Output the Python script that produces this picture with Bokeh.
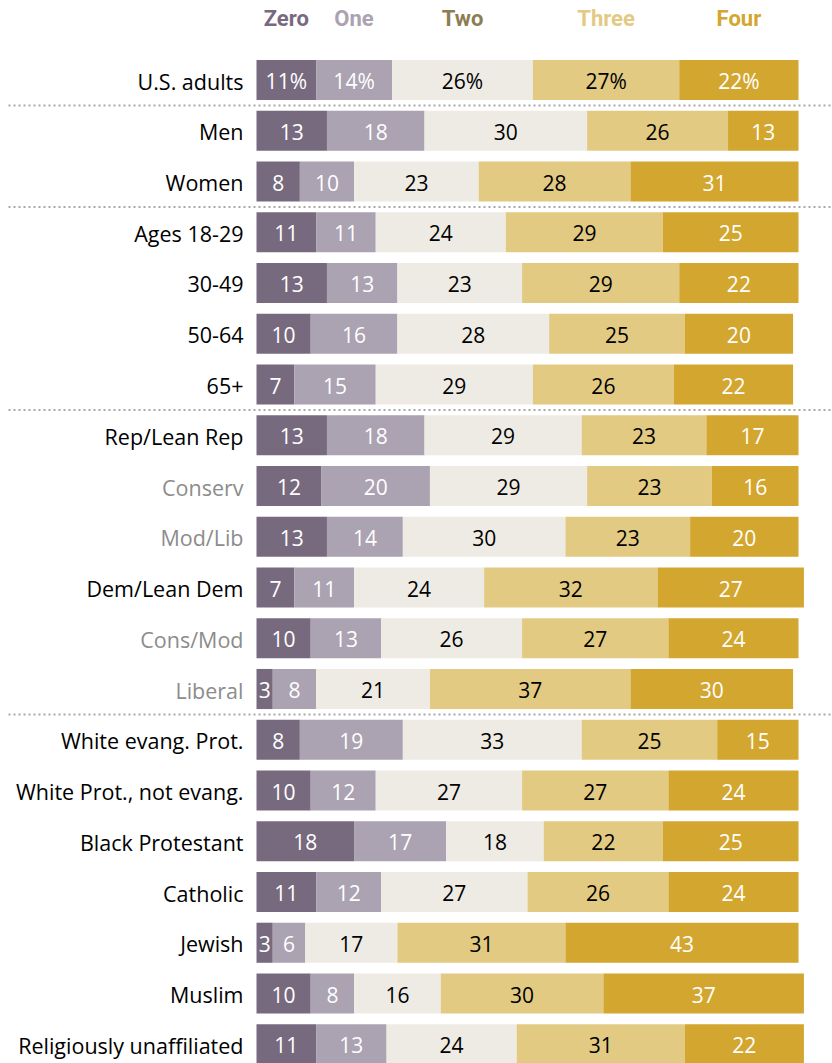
from bokeh.plotting import figure
from bokeh.models import ColumnDataSource, Range1d
from bokeh.core.properties import value
from bokeh.embed import file_html
from bokeh.resources import INLINE

# ---- data ----
groups = ["U.S. adults", "Men", "Women", "Ages 18-29", "30-49", "50-64", "65+",
          "Rep/Lean Rep", "Conserv", "Mod/Lib", "Dem/Lean Dem", "Cons/Mod", "Liberal",
          "White evang. Prot.", "White Prot., not evang.", "Black Protestant",
          "Catholic", "Jewish", "Muslim", "Religiously unaffiliated"]
sub_groups = ["Conserv", "Mod/Lib", "Cons/Mod", "Liberal"]
categories = ["Zero", "One", "Two", "Three", "Four"]
zero = [11, 13, 8, 11, 13, 10, 7, 13, 12, 13, 7, 10, 3, 8, 10, 18, 11, 3, 10, 11]
one = [14, 18, 10, 11, 13, 16, 15, 18, 20, 14, 11, 13, 8, 19, 12, 17, 12, 6, 8, 13]
two = [26, 30, 23, 24, 23, 28, 29, 29, 29, 30, 24, 26, 21, 33, 27, 18, 27, 17, 16, 24]
three = [27, 26, 28, 29, 29, 25, 26, 23, 23, 23, 32, 27, 37, 25, 27, 22, 26, 31, 30, 31]
four = [22, 13, 31, 25, 22, 20, 22, 17, 16, 20, 27, 24, 30, 15, 24, 25, 24, 43, 37, 22]
separators_after = ["U.S. adults", "Women", "65+", "Liberal"]

series = [zero, one, two, three, four]
colors = ["#776A7E", "#ABA2B2", "#EEEBE4", "#E2CA83", "#D3A62F"]
header_colors = ["#776A7E", "#ABA2B2", "#8C7E52", "#E2CA83", "#D3A62F"]
text_colors = ["white", "white", "black", "black", "white"]

# ---- layout ----
W, H = 832, 1063
px_per_unit = 5.42
bar_left_px = 256
row_px = 50.75
first_row_px = 79.5

x0 = -bar_left_px / px_per_unit
x1 = (W - bar_left_px) / px_per_unit
ytop = -first_row_px / row_px
ybot = ytop + H / row_px

p = figure(width=W, height=H, output_backend="svg", toolbar_location=None,
           x_range=Range1d(x0, x1), y_range=Range1d(ybot, ytop),
           min_border=0, min_border_left=0, min_border_right=0,
           min_border_top=0, min_border_bottom=0)
p.axis.visible = False
p.grid.visible = False
p.outline_line_color = None
p.background_fill_color = "white"
p.border_fill_color = "white"

n = len(groups)
ys = list(range(n))
lefts = [0] * n
for k, vals in enumerate(series):
    rights = [l + v for l, v in zip(lefts, vals)]
    mids = [(l + r) / 2 for l, r in zip(lefts, rights)]
    labels = [f"{v}%" if i == 0 else str(v) for i, v in enumerate(vals)]
    src = ColumnDataSource(dict(y=ys, left=lefts, right=rights, mid=mids, lab=labels))
    p.hbar(y="y", left="left", right="right", height=0.79, source=src,
           fill_color=colors[k], line_color=None)
    p.text(x="mid", y="y", text="lab", source=src, text_align="center",
           text_baseline="middle", text_color=text_colors[k], text_font_size="21px",
           text_font=value("Open Sans"), y_offset=1)
    # header label centered on first row's segment
    p.text(x=[mids[0]], y=[ytop + 18 / row_px], text=[categories[k]],
           text_align="center", text_baseline="middle", text_color=header_colors[k],
           text_font_size="22px", text_font_style="bold",
           text_font=value("Roboto"))
    lefts = rights

# row labels
label_colors = ["#8C8C8C" if g in sub_groups else "black" for g in groups]
lsrc = ColumnDataSource(dict(y=ys, g=groups, c=label_colors, x=[-2.4] * n))
p.text(x="x", y="y", text="g", text_color="c", source=lsrc, text_align="right",
       text_baseline="middle", text_font_size="21.5px",
       text_font=value("Open Sans"), y_offset=1)

# dotted separators
for g in separators_after:
    yy = groups.index(g) + 0.5
    p.line(x=[x0 + 8 / px_per_unit, x1], y=[yy, yy], line_color="#A8A8A8",
           line_width=2, line_dash="2 3")

open("out.html", "w").write(file_html(p, INLINE))
